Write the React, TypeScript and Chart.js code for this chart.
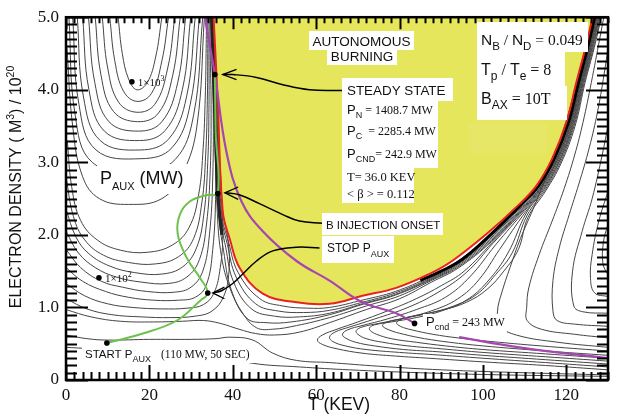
import { useEffect, useRef } from 'react';
import { Chart, registerables } from 'chart.js';

Chart.register(...registerables);

type P = [number, number];

const X_TICKS = [0, 20, 40, 60, 80, 100, 120];
const X_TICK_LABELS = ['0', '20', '40', '60', '80', '100', '120'];
const Y_TICKS = [0, 1, 2, 3, 4, 5];
const Y_TICK_LABELS = ['0', '1.0', '2.0', '3.0', '4.0', '5.0'];

// Ignition boundary (red) enclosing the autonomous burning region
const RED_BOUNDARY: P[] = [
  [35.4, 5.0], [36.4, 3.83], [37.6, 2.32], [39.3, 1.94], [41.7, 1.54], [47.2, 1.19], [55.3, 1.07],
  [63.2, 1.05], [71.1, 1.16], [79.2, 1.27], [87.1, 1.46], [92.6, 1.64], [100.8, 2.01], [108.7, 2.42],
  [113, 2.69], [116.6, 3.05], [120, 3.55], [122.4, 4.1], [124.6, 4.58], [126.3, 5.0],
];

// P_cnd = 243 MW contour (purple)
const PURPLE_UPPER: P[] = [
  [33.3, 5.0], [35.7, 4.21], [38.5, 3.14], [42.1, 2.46], [47.2, 2.05], [55.3, 1.64], [63.2, 1.37],
  [71.1, 1.07], [79.2, 0.92], [83.6, 0.78],
];
const PURPLE_LOWER: P[] = [[94.3, 0.59], [108.7, 0.45], [130, 0.3]];

// Operating trajectory (green)
const TRAJECTORY: P[] = [
  [9.8, 0.51], [18.4, 0.64], [26.6, 0.82], [32.1, 1.09], [34.0, 1.2], [32.1, 1.41], [29.0, 1.68],
  [26.8, 2.01], [27.3, 2.28], [29.7, 2.46], [33.8, 2.55], [36.4, 2.57], [35.9, 3.42], [35.7, 4.21],
];

// Marked points: start, stop P_aux, B injection, steady state, 1e3, 1e2, P_cnd
const MARKERS: P[] = [[9.8, 0.51], [34.0, 1.2], [36.4, 2.57], [35.7, 4.21], [15.8, 4.11], [7.9, 1.41], [83.6, 0.78]];

// Annotation arrows
const ARROW_STEADY: P[] = [[66.3, 3.99], [58.4, 4.0], [52, 4.07], [45.7, 4.17], [40, 4.21], [37.6, 4.21]];
const ARROW_BINJ: P[] = [[61.5, 2.16], [56, 2.19], [52, 2.28], [46.4, 2.43], [41.7, 2.55], [38.1, 2.58]];
const ARROW_STOP: P[] = [[60.8, 1.82], [55.3, 1.83], [49.6, 1.78], [45.7, 1.64], [42.4, 1.46], [40, 1.33], [37.3, 1.23], [35.2, 1.2]];
const HEAD_STEADY: P[] = [[40.9, 4.28], [37.6, 4.21], [40.9, 4.14]];
const HEAD_BINJ: P[] = [[41.3, 2.66], [38.1, 2.58], [41.3, 2.49]];
const HEAD_STOP: P[] = [[38, 1.28], [35.2, 1.2], [38, 1.12]];

// P_aux contours: upper-left nested U shapes
const CONTOURS_U: P[][] = [
  [[12.5, 5], [13.5, 4.5], [15, 4.15], [17, 4.0], [19.5, 4.1], [21.5, 4.45], [23, 5]],
  [[10.5, 5], [11.7, 4.4], [13.8, 3.98], [17, 3.84], [20.5, 3.95], [23, 4.4], [24.6, 5]],
  [[8.7, 5], [10, 4.3], [12.6, 3.83], [17, 3.69], [21.3, 3.8], [24.4, 4.3], [26.1, 5]],
  [[7, 5], [8.4, 4.2], [11.4, 3.7], [17.2, 3.56], [22.2, 3.68], [25.6, 4.2], [27.4, 5]],
  [[5.4, 5], [6.9, 4.1], [10.3, 3.56], [17.4, 3.43], [23, 3.56], [26.8, 4.1], [28.7, 5]],
  [[4, 5], [5.5, 4.0], [9.2, 3.43], [17.6, 3.3], [23.8, 3.44], [27.9, 4.0], [29.9, 5]],
  [[2.7, 5], [4.2, 3.9], [8.2, 3.3], [17.8, 3.17], [24.6, 3.32], [28.9, 3.9], [31, 5]],
  [[1.6, 5], [3.1, 3.8], [7.2, 3.17], [18, 3.05], [25.4, 3.2], [29.8, 3.8], [32, 5]],
  [[0.7, 5], [2.2, 3.65], [6.3, 3.0], [18, 2.87], [26.2, 3.04], [30.6, 3.65], [32.8, 5]],
  [[0.2, 4.6], [1.6, 3.5], [4, 2.8], [8, 2.5], [15, 2.42], [23, 2.5], [28, 2.85], [31.4, 3.5], [33.2, 5]],
];

// P_aux contours entering from the left edge and rising into the band
const CONTOURS_L: P[][] = [
  [[0.3, 3.3], [1.4, 2.65], [3.5, 2.2], [7.5, 1.93], [13, 1.79], [19.5, 1.76], [25.5, 1.86], [29.5, 2.1], [31.8, 2.55], [32.9, 3.2], [33.4, 3.9], [33.6, 4.5], [33.7, 5]],
  [[0, 2.8], [1.8, 2.25], [4.5, 1.93], [9, 1.72], [15, 1.62], [21.5, 1.6], [27, 1.7], [30.6, 1.95], [32.6, 2.45], [33.5, 3.1], [33.9, 3.85], [34, 4.5], [34.0, 5]],
  [[0, 2.35], [2.4, 1.97], [5.5, 1.74], [10.5, 1.57], [16.5, 1.48], [23, 1.46], [28, 1.56], [31.3, 1.82], [33.1, 2.3], [34, 3.0], [34.3, 3.8], [34.3, 4.5], [34.3, 5]],
  [[0, 2.05], [3, 1.75], [7, 1.55], [12, 1.42], [18, 1.35], [24.5, 1.33], [29, 1.42], [32, 1.66], [33.7, 2.15], [34.6, 2.9], [34.8, 3.8], [34.6, 4.5], [34.55, 5]],
  [[0, 1.8], [3.5, 1.55], [8.5, 1.36], [13.5, 1.28], [19.5, 1.22], [26, 1.21], [30, 1.28], [32.8, 1.5], [34.4, 2.0], [35.2, 2.8], [35.3, 3.8], [35, 4.5], [34.8, 5]],
  [[0, 1.55], [4, 1.36], [9.5, 1.22], [15, 1.14], [21, 1.1], [27, 1.1], [31, 1.14], [33.6, 1.3], [35.2, 1.8], [35.9, 2.6], [35.8, 3.6], [35.3, 4.5], [35.0, 5]],
  [[0, 1.33], [4.5, 1.16], [10, 1.05], [16, 1.0], [23, 0.98], [29, 0.99], [33, 1.04], [35.5, 1.2], [37, 1.55], [37.6, 2.0], [37.2, 2.7], [36.3, 3.6], [35.6, 4.5], [35.15, 5]],
  [[0, 1.12], [5, 0.98], [11, 0.9], [18, 0.87], [25, 0.86], [31, 0.88], [35, 0.95], [37.8, 1.15], [39.1, 1.5], [38.9, 1.9], [37.4, 2.4], [36.6, 3.3], [35.8, 4.3], [35.25, 5]],
];

// Contours hugging the ignition boundary from outside
const CONTOURS_H: P[][] = [
  [[35.3, 5], [36.2, 3.8], [37.3, 2.3], [39, 1.9], [41.3, 1.48], [46.5, 1.12], [52, 1.02], [58, 0.99], [63.2, 1.0], [71, 1.1], [79, 1.22], [87.2, 1.42], [93, 1.6], [101.2, 1.97], [109, 2.42], [113.3, 2.69], [116.9, 3.05], [120.3, 3.55], [122.7, 4.1], [124.9, 4.58], [126.6, 5]],
  [[35.2, 5], [36.1, 3.8], [37.1, 2.3], [38.7, 1.87], [40.8, 1.42], [45.5, 1.05], [51, 0.95], [57, 0.93], [63.2, 0.96], [71, 1.07], [79, 1.2], [87.3, 1.4], [93.2, 1.58], [101.4, 1.95], [109.15, 2.41], [113.45, 2.69], [117.05, 3.05], [120.45, 3.55], [122.85, 4.1], [125.05, 4.58], [126.75, 5]],
  [[35.1, 5], [35.9, 3.8], [36.9, 2.3], [38.3, 1.83], [40.2, 1.35], [44.5, 0.98], [50, 0.88], [56, 0.87], [63.2, 0.92], [71, 1.05], [79, 1.18], [87.4, 1.39], [93.4, 1.57], [101.6, 1.94], [109.3, 2.4], [113.6, 2.68], [117.2, 3.04], [120.6, 3.55], [123, 4.1], [125.2, 4.58], [126.9, 5]],
  [[35.0, 5], [35.7, 3.8], [36.6, 2.3], [37.8, 1.78], [39.6, 1.25], [43.4, 0.85], [48, 0.79], [54, 0.8], [63.2, 0.9], [71, 1.04], [79, 1.17], [87.5, 1.38], [93.6, 1.56], [101.8, 1.93], [109.45, 2.39], [113.75, 2.68], [117.35, 3.04], [120.75, 3.55], [123.15, 4.1], [125.35, 4.58], [127.05, 5]],
  [[34.9, 5], [35.5, 3.8], [36.3, 2.3], [37.3, 1.7], [39.3, 1.27], [42.4, 0.92], [45.7, 0.72], [49.6, 0.7], [55.3, 0.75], [63.2, 0.86], [72, 1.02], [80, 1.16], [87.6, 1.37], [93.8, 1.55], [102, 1.92], [109.6, 2.38], [113.9, 2.67], [117.5, 3.03], [120.9, 3.54], [123.3, 4.1], [125.5, 4.58], [127.2, 5]],
  [[0, 0.97], [6, 0.87], [13, 0.81], [21, 0.8], [28, 0.81], [33, 0.82], [37, 0.78], [41.5, 0.7], [45.5, 0.64], [50, 0.62], [56, 0.66], [63.2, 0.79], [72, 0.97], [80, 1.12], [87.7, 1.35], [94, 1.54], [102.1, 1.91], [109.7, 2.37], [114, 2.67], [117.6, 3.03], [121, 3.54], [123.4, 4.1], [125.6, 4.58], [127.3, 5]],
];

// Nested contours with noses below the boundary, opening to the right
const CONTOURS_C: P[][] = [
  [[130, 0.14], [115, 0.2], [100, 0.25], [87, 0.3], [79, 0.33], [71, 0.37], [65, 0.43], [61.5, 0.49], [60.3, 0.55], [61.5, 0.62], [65, 0.7], [70, 0.8], [77, 0.95], [84, 1.12], [90, 1.3], [95.5, 1.5], [102.3, 1.9], [109.8, 2.36], [114.1, 2.66], [117.7, 3.02], [121.1, 3.53], [123.5, 4.1], [125.7, 4.58], [127.4, 5]],
  [[130, 0.18], [115, 0.24], [100, 0.3], [88, 0.35], [80, 0.38], [72, 0.42], [67, 0.47], [64, 0.53], [63.2, 0.59], [64.5, 0.66], [68, 0.73], [74, 0.84], [82, 1.0], [89, 1.2], [96, 1.48], [102.5, 1.89], [109.95, 2.35], [114.25, 2.66], [117.85, 3.02], [121.25, 3.53], [123.65, 4.1], [125.85, 4.58], [127.55, 5]],
  [[130, 0.22], [115, 0.28], [100, 0.34], [89, 0.39], [81, 0.42], [74, 0.47], [69.5, 0.52], [67, 0.58], [66.3, 0.63], [67.5, 0.69], [71, 0.75], [77, 0.84], [84, 0.97], [91, 1.14], [97, 1.43], [103, 1.86], [110.1, 2.34], [114.4, 2.65], [118, 3.01], [121.4, 3.52], [123.8, 4.1], [126, 4.58], [127.7, 5]],
  [[130, 0.26], [115, 0.32], [100, 0.38], [90, 0.43], [82, 0.47], [76, 0.52], [72, 0.57], [70, 0.63], [69.6, 0.68], [71, 0.73], [75, 0.78], [81, 0.85], [88, 0.96], [94, 1.12], [99, 1.38], [104, 1.8], [110.25, 2.32], [114.55, 2.64], [118.15, 3.0], [121.55, 3.52], [123.95, 4.1], [126.15, 4.58], [127.85, 5]],
  [[130, 0.3], [115, 0.36], [100, 0.42], [91, 0.47], [84, 0.52], [78, 0.57], [74.5, 0.63], [73, 0.68], [72.8, 0.72], [74, 0.76], [78, 0.8], [84, 0.86], [90, 0.95], [96, 1.1], [101, 1.35], [106, 1.75], [110.4, 2.3], [114.7, 2.63], [118.3, 3.0], [121.7, 3.51], [124.1, 4.1], [126.3, 4.58], [128, 5]],
  [[130, 0.34], [115, 0.4], [100, 0.47], [92, 0.52], [86, 0.57], [81, 0.63], [77.5, 0.69], [75.9, 0.75], [77, 0.8], [81, 0.85], [87, 0.92], [93, 1.02], [98.5, 1.18], [103, 1.45], [107, 1.75], [110.6, 2.27], [114.9, 2.62], [118.5, 2.99], [121.9, 3.51], [124.3, 4.1], [126.5, 4.58], [128.2, 5]],
  [[130, 0.4], [116, 0.46], [102, 0.53], [94, 0.58], [88, 0.63], [83, 0.69], [80.2, 0.74], [79.3, 0.79], [80.5, 0.84], [84, 0.89], [90, 0.96], [96, 1.07], [101, 1.25], [105, 1.5], [108.5, 1.8], [110.8, 2.24], [115.1, 2.61], [118.7, 2.98], [122.1, 3.5], [124.5, 4.1], [126.7, 4.58], [128.4, 5]],
];

// Right-hand fan of contours
const CONTOURS_R: P[][] = [
  [[130, 0.45], [118, 0.52], [108, 0.62], [104, 0.75], [103.5, 0.95], [104.5, 1.2], [106.5, 1.55], [109, 1.95], [112, 2.35], [115.5, 2.85], [118.8, 3.35], [121.6, 3.9], [123.8, 4.4], [126, 4.9], [127, 5.15]],
  [[130, 0.58], [122, 0.63], [114, 0.7], [110.6, 0.82], [110.5, 1.0], [111, 1.27], [113.5, 1.73], [116.6, 2.19], [119.5, 2.64], [122, 3.1], [124, 3.55], [126, 4.1], [128, 4.7], [129, 5]],
  [[130, 0.74], [122, 0.77], [117.8, 0.82], [116.8, 0.95], [116.8, 1.37], [118.3, 1.82], [120.7, 2.28], [123, 2.7], [125.5, 3.2], [127.5, 3.7], [129.3, 4.3], [130.3, 4.7]],
  [[130, 0.92], [124, 0.94], [121.8, 1.02], [121.5, 1.5], [123.8, 2.05], [126.2, 2.5], [128.6, 3.1], [130, 3.5]],
  [[130, 1.15], [126.8, 1.2], [125.8, 1.4], [126.2, 1.73], [127.8, 2.19], [130, 2.6]],
  [[130, 1.45], [128.8, 1.6], [128.9, 1.9], [130, 2.15]],
];

// Low-density contours running along the bottom
const CONTOURS_B: P[][] = [
  [[0, 0.62], [5, 0.57], [10, 0.55], [20, 0.56], [30, 0.56], [36, 0.57], [39.3, 0.59], [44.8, 0.55], [49.6, 0.37], [55.3, 0.27], [63.2, 0.24], [75, 0.19], [90, 0.14], [110, 0.1], [130, 0.07]],
  [[0, 0.45], [10, 0.42], [20, 0.4], [30, 0.38], [38, 0.33], [44.8, 0.23], [56, 0.18], [68, 0.14], [85, 0.1], [105, 0.07], [130, 0.05]],
];

// Dense clusters of contours next to the boundary
const BAND_LEFT: P[] = [[34.9, 5], [35.6, 3.8], [36.5, 2.5], [37.4, 2.0]];
const BAND_RIGHT: P[] = [[85, 1.37], [90, 1.5], [95, 1.66], [101.6, 1.99], [109.2, 2.42], [113.5, 2.69], [117.1, 3.05], [120.5, 3.55], [122.9, 4.1], [125.1, 4.58], [126.8, 5]];

const SANS = '"Liberation Sans", Arial, sans-serif';
const SERIF = '"Liberation Serif", "Times New Roman", serif';

const toXY = (pts: P[]) => pts.map(([x, y]) => ({ x, y }));

type Seg = { t: string; f: string; dy?: number };
function drawRich(ctx: CanvasRenderingContext2D, x: number, y: number, segs: Seg[]) {
  let cx = x;
  for (const s of segs) {
    ctx.font = s.f;
    ctx.fillText(s.t, cx, y + (s.dy || 0));
    cx += ctx.measureText(s.t).width;
  }
  return cx - x;
}

const decorPlugin = {
  id: 'decor',
  afterDatasetsDraw(chart: any) {
    const ctx: CanvasRenderingContext2D = chart.ctx;
    const xs = chart.scales.x;
    const ys = chart.scales.y;
    const { left, right, top, bottom } = chart.chartArea;
    ctx.save();
    // ticks pointing inward
    ctx.strokeStyle = '#000';
    ctx.lineWidth = 2;
    ctx.beginPath();
    for (let i = 0; i <= 50; i++) {
      const v = i / 10;
      const py = Math.round(ys.getPixelForValue(v)) + 0.5;
      const len = i % 10 === 0 ? 22 : 11;
      ctx.moveTo(left, py); ctx.lineTo(left + len, py);
      ctx.moveTo(right, py); ctx.lineTo(right - len, py);
    }
    for (let t = 0; t <= 130; t += 2) {
      const px = Math.round(xs.getPixelForValue(t)) + 0.5;
      const major = t % 20 === 0;
      ctx.moveTo(px, bottom); ctx.lineTo(px, bottom - (major ? 15 : 8));
      ctx.moveTo(px, top); ctx.lineTo(px, top + (major ? 12 : 6));
    }
    ctx.stroke();
    ctx.lineWidth = 2.5;
    ctx.strokeRect(left, top, right - left, bottom - top);

    const box = (x: number, y: number, w: number, h: number, c = '#fff') => {
      ctx.fillStyle = c;
      ctx.fillRect(x, y, w, h);
    };
    ctx.textBaseline = 'alphabetic';
    // faint lighter patch inside the yellow area
    box(468, 123, 79, 30, 'rgba(255,255,255,0.07)');
    // Autonomous burning
    box(309, 31, 105, 19);
    box(327, 48, 70, 17);
    ctx.fillStyle = '#111';
    ctx.font = `13.5px ${SANS}`;
    ctx.textAlign = 'center';
    ctx.fillText('AUTONOMOUS', 361.5, 46);
    ctx.fillText('BURNING', 362, 61);
    ctx.textAlign = 'left';

    // Steady state block
    box(342, 78, 111, 23);
    box(342, 101, 96, 21);
    box(342, 122, 96, 22);
    box(342, 144, 96, 24);
    box(342, 168, 72, 18);
    box(342, 186, 72, 17);
    ctx.fillStyle = '#111';
    ctx.font = `13.4px ${SANS}`;
    ctx.fillText('STEADY STATE', 347, 95);
    drawRich(ctx, 347, 114, [
      { t: 'P', f: `13px ${SANS}` }, { t: 'N', f: `9px ${SANS}`, dy: 4 }, { t: ' = 1408.7 MW', f: `12px ${SERIF}` },
    ]);
    drawRich(ctx, 347, 135, [
      { t: 'P', f: `13px ${SANS}` }, { t: 'C', f: `9px ${SANS}`, dy: 4 }, { t: '  = 2285.4 MW', f: `12px ${SERIF}` },
    ]);
    drawRich(ctx, 347, 158, [
      { t: 'P', f: `13px ${SANS}` }, { t: 'CND', f: `9px ${SANS}`, dy: 4 }, { t: '= 242.9 MW', f: `12px ${SERIF}` },
    ]);
    ctx.font = `12.5px ${SERIF}`;
    ctx.fillText('T= 36.0 KEV', 347, 181);
    ctx.fillText('< \u03B2 > = 0.112', 347, 198);

    // Parameters box (one white block per line)
    box(477, 22, 111, 30);
    box(477, 52, 88, 34);
    box(477, 86, 90, 34);
    ctx.fillStyle = '#111';
    drawRich(ctx, 481, 45, [
      { t: 'N', f: `15.5px ${SANS}` }, { t: 'B', f: `11.5px ${SANS}`, dy: 5 }, { t: ' / ', f: `15.5px ${SERIF}` },
      { t: 'N', f: `15.5px ${SANS}` }, { t: 'D', f: `11.5px ${SANS}`, dy: 5 }, { t: ' = 0.049', f: `15.5px ${SERIF}` },
    ]);
    drawRich(ctx, 481, 75, [
      { t: 'T', f: `16px ${SANS}` }, { t: 'p', f: `12px ${SANS}`, dy: 5 }, { t: ' / ', f: `16px ${SERIF}` },
      { t: 'T', f: `16px ${SANS}` }, { t: 'e', f: `12px ${SANS}`, dy: 5 }, { t: ' = 8', f: `16px ${SERIF}` },
    ]);
    drawRich(ctx, 481, 104, [
      { t: 'B', f: `16px ${SANS}` }, { t: 'AX', f: `12px ${SANS}`, dy: 5 }, { t: ' = 10T', f: `16px ${SERIF}` },
    ]);

    // B injection onset
    box(322, 213, 121, 22);
    ctx.fillStyle = '#111';
    ctx.font = `11.5px ${SANS}`;
    ctx.fillText('B INJECTION ONSET', 326, 229);

    // Stop P_aux
    box(322, 236, 72, 27);
    ctx.fillStyle = '#111';
    drawRich(ctx, 327, 252, [{ t: 'STOP P', f: `12px ${SANS}` }, { t: 'AUX', f: `9px ${SANS}`, dy: 5 }]);

    // P_aux (MW)
    box(97, 164, 95, 30);
    ctx.fillStyle = '#111';
    drawRich(ctx, 100, 184, [
      { t: 'P', f: `18px ${SANS}` }, { t: 'AUX', f: `11px ${SANS}`, dy: 6 }, { t: ' (MW)', f: `18px ${SANS}` },
    ]);

    // contour level labels
    const m3x = xs.getPixelForValue(MARKERS[4][0]);
    const m3y = ys.getPixelForValue(MARKERS[4][1]);
    drawRich(ctx, m3x + 6, m3y + 4, [{ t: '1\u00D710', f: `11px ${SERIF}` }, { t: '3', f: `8px ${SERIF}`, dy: -5 }]);
    const m2x = xs.getPixelForValue(MARKERS[5][0]);
    const m2y = ys.getPixelForValue(MARKERS[5][1]);
    drawRich(ctx, m2x + 6, m2y + 4, [{ t: '1\u00D710', f: `11px ${SERIF}` }, { t: '2', f: `8px ${SERIF}`, dy: -5 }]);

    // Start label
    box(82, 347, 172, 16);
    ctx.fillStyle = '#111';
    drawRich(ctx, 85, 358, [{ t: 'START P', f: `11.5px ${SANS}` }, { t: 'AUX', f: `9px ${SANS}`, dy: 4 }]);
    ctx.font = `11.5px ${SERIF}`;
    ctx.fillText('(110 MW, 50 SEC)', 161, 358);

    // P_cnd label
    box(423, 314, 84, 18);
    ctx.fillStyle = '#111';
    drawRich(ctx, 426, 326, [
      { t: 'P', f: `13px ${SANS}` }, { t: 'cnd', f: `9px ${SANS}`, dy: 4 }, { t: ' = 243 MW', f: `12px ${SERIF}` },
    ]);
    ctx.restore();
  },
  afterDraw(chart: any) {
    const ctx: CanvasRenderingContext2D = chart.ctx;
    ctx.save();
    ctx.fillStyle = '#111';
    ctx.font = `17.5px ${SANS}`;
    ctx.textAlign = 'center';
    ctx.fillText('T (KEV)', 339, 410);
    // rotated y title
    ctx.translate(21, 187);
    ctx.rotate(-Math.PI / 2);
    ctx.textAlign = 'left';
    const segs: Seg[] = [
      { t: 'ELECTRON DENSITY ( M', f: `16px ${SANS}` }, { t: '3', f: `10.5px ${SANS}`, dy: -7 },
      { t: ') / 10', f: `16px ${SANS}` }, { t: '20', f: `10.5px ${SANS}`, dy: -7 },
    ];
    let w = 0;
    for (const s of segs) { ctx.font = s.f; w += ctx.measureText(s.t).width; }
    drawRich(ctx, -w / 2, 0, segs);
    ctx.restore();
  },
};

export default function App() {
  const ref = useRef<HTMLCanvasElement | null>(null);
  useEffect(() => {
    if (!ref.current) return;
    const gray = '#454545';
    const contour = (pts: P[]) => ({
      data: toXY(pts), showLine: true, borderColor: gray, borderWidth: 1, pointRadius: 0, tension: 0.4, fill: false,
    });
    const families = [...CONTOURS_U, ...CONTOURS_L, ...CONTOURS_H, ...CONTOURS_C, ...CONTOURS_R, ...CONTOURS_B];
    const line = (pts: P[], color: string, width: number, tension = 0.4) => ({
      data: toXY(pts), showLine: true, borderColor: color, borderWidth: width, pointRadius: 0, tension, fill: false,
    });
    const chart = new Chart(ref.current, {
      type: 'scatter',
      data: {
        datasets: [
          { data: toXY(MARKERS), showLine: false, pointRadius: 2.8, pointBackgroundColor: '#000', pointBorderWidth: 0 },
          line(HEAD_STEADY, '#000', 1.3, 0),
          line(HEAD_BINJ, '#000', 1.3, 0),
          line(HEAD_STOP, '#000', 1.3, 0),
          line(ARROW_STEADY, '#000', 1.5),
          line(ARROW_BINJ, '#000', 1.5),
          line(ARROW_STOP, '#000', 1.5),
          line(TRAJECTORY, '#6cc24a', 2),
          line(PURPLE_UPPER, '#a646b0', 2.2),
          line(PURPLE_LOWER, '#a646b0', 2.2),
          line(RED_BOUNDARY, '#e8231f', 2),
          line(BAND_RIGHT, '#000', 3),
          line(BAND_LEFT, '#222', 3),
          ...families.map(contour),
          {
            data: toXY(RED_BOUNDARY), showLine: true, borderWidth: 0, borderColor: 'rgba(0,0,0,0)', pointRadius: 0,
            tension: 0.4, fill: 'end', backgroundColor: '#e6e65c',
          },
        ] as any,
      },
      options: {
        animation: false,
        responsive: false,
        devicePixelRatio: 1,
        layout: { padding: { top: 14, right: 12, left: 0, bottom: 0 } },
        plugins: { legend: { display: false }, tooltip: { enabled: false } },
        scales: {
          x: {
            type: 'linear', min: 0, max: 130,
            grid: { display: false, drawTicks: false }, border: { display: false },
            afterBuildTicks: (s: any) => { s.ticks = X_TICKS.map((v) => ({ value: v })); },
            afterFit: (s: any) => { s.height = 36; },
            ticks: {
              padding: 5, color: '#111', font: { family: SERIF, size: 17 }, maxRotation: 0,
              callback: (v: any) => X_TICK_LABELS[X_TICKS.indexOf(Number(v))] ?? '',
            },
          },
          y: {
            type: 'linear', min: 0, max: 5,
            grid: { display: false, drawTicks: false }, border: { display: false },
            afterBuildTicks: (s: any) => { s.ticks = Y_TICKS.map((v) => ({ value: v })); },
            afterFit: (s: any) => { s.width = 66; },
            ticks: {
              padding: 7, color: '#111', font: { family: SERIF, size: 17 },
              callback: (v: any) => Y_TICK_LABELS[Y_TICKS.indexOf(Number(v))] ?? '',
            },
          },
        },
      } as any,
      plugins: [decorPlugin],
    });
    return () => chart.destroy();
  }, []);
  return (
    <div style={{ position: 'absolute', left: 0, top: 0, width: 620, height: 416, background: '#fff' }}>
      <canvas ref={ref} width={620} height={416} />
    </div>
  );
}
